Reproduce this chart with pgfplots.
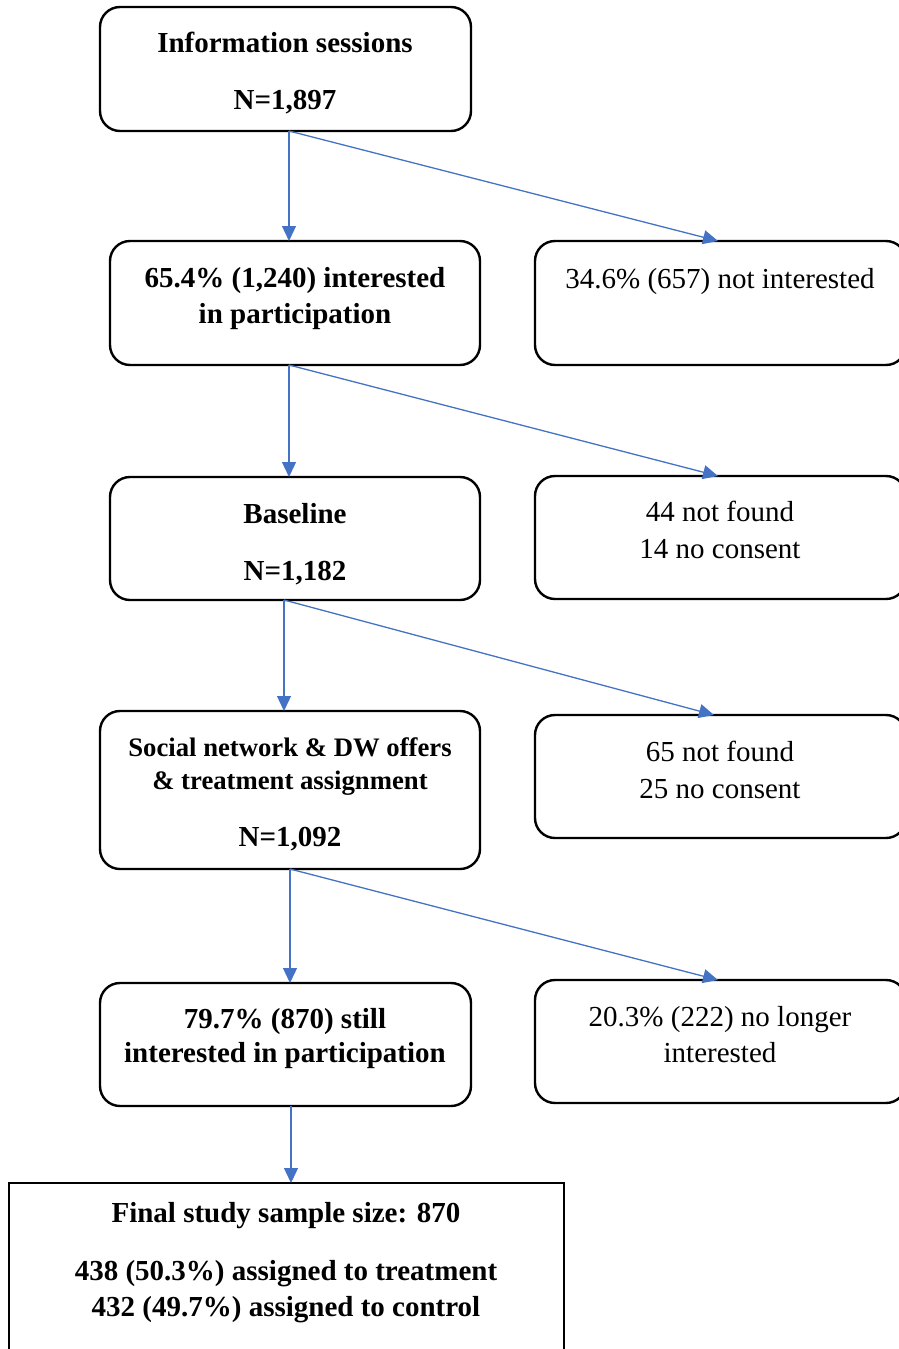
\documentclass[border=0pt]{standalone}
\usepackage{pgfplots}
\pgfplotsset{compat=1.18}
\usepackage{fontspec}
\setmainfont{Liberation Serif}
\usetikzlibrary{arrows.meta}
\definecolor{arrowblue}{HTML}{4472C4}
\begin{document}
\begin{tikzpicture}
\begin{axis}[
  scale only axis, width=899pt, height=1349pt,
  xmin=0, xmax=899, ymin=0, ymax=1349, y dir=reverse,
  hide axis, clip=true,
]
\path (rel axis cs:0,0) rectangle (rel axis cs:1,1);
% boxes
\tikzset{bx/.style={draw=black, line width=2.4pt, rounded corners=20pt}}
\draw[bx] (axis cs:100,7) rectangle (axis cs:471,131);
\draw[bx] (axis cs:110,241) rectangle (axis cs:480,365);
\draw[bx] (axis cs:535,241) rectangle (axis cs:906,365);
\draw[bx] (axis cs:110,477) rectangle (axis cs:480,600);
\draw[bx] (axis cs:535,476) rectangle (axis cs:906,599);
\draw[bx] (axis cs:100,711) rectangle (axis cs:480,869);
\draw[bx] (axis cs:535,715) rectangle (axis cs:906,838);
\draw[bx] (axis cs:100,983) rectangle (axis cs:471,1106);
\draw[bx] (axis cs:535,980) rectangle (axis cs:906,1103);
\draw[draw=black, line width=2.4pt] (axis cs:9,1183) rectangle (axis cs:564,1365);
% arrows
\tikzset{ar/.style={draw=arrowblue, line width=1.3pt, -{Triangle[width=14pt,length=15pt]}}}
\draw[ar] (axis cs:289,131) -- (axis cs:289,241);
\draw[ar] (axis cs:289,131) -- (axis cs:718,241);
\draw[ar] (axis cs:289,365) -- (axis cs:289,477);
\draw[ar] (axis cs:289,365) -- (axis cs:718,476);
\draw[ar] (axis cs:284,600) -- (axis cs:284,711);
\draw[ar] (axis cs:284,600) -- (axis cs:714,715);
\draw[ar] (axis cs:290,869) -- (axis cs:290,983);
\draw[ar] (axis cs:290,869) -- (axis cs:718,980);
\draw[ar] (axis cs:291,1106) -- (axis cs:291,1183);
% texts
\tikzset{tb/.style={anchor=base, inner sep=0pt, font=\fontsize{29}{34}\selectfont\bfseries},
         tr/.style={anchor=base, inner sep=0pt, font=\fontsize{29}{34}\selectfont},
         ts/.style={anchor=base, inner sep=0pt, font=\fontsize{26.7}{32}\selectfont\bfseries}}
\node[tb] at (axis cs:285,52) {Information sessions};
\node[tb] at (axis cs:285,109) {N=1,897};
\node[tb] at (axis cs:295,287) {65.4\% (1,240) interested};
\node[tb] at (axis cs:295,323) {in participation};
\node[tr] at (axis cs:720,288) {34.6\% (657) not interested};
\node[tb] at (axis cs:295,523) {Baseline};
\node[tb] at (axis cs:295,580) {N=1,182};
\node[tr] at (axis cs:720,521) {44 not found};
\node[tr] at (axis cs:720,558) {14 no consent};
\node[ts] at (axis cs:290,756) {Social network \& DW offers};
\node[ts] at (axis cs:290,789) {\& treatment assignment};
\node[tb] at (axis cs:290,846) {N=1,092};
\node[tr] at (axis cs:720,761) {65 not found};
\node[tr] at (axis cs:720,798) {25 no consent};
\node[tb] at (axis cs:285,1028) {79.7\% (870) still};
\node[tb] at (axis cs:285,1062) {interested in participation};
\node[tr] at (axis cs:720,1026) {20.3\% (222) no longer};
\node[tr] at (axis cs:720,1062) {interested};
\node[tb] at (axis cs:286,1222) {Final study sample size: 870};
\node[tb] at (axis cs:286,1280) {438 (50.3\%) assigned to treatment};
\node[tb] at (axis cs:286,1316) {432 (49.7\%) assigned to control};
\end{axis}
\end{tikzpicture}
\end{document}
